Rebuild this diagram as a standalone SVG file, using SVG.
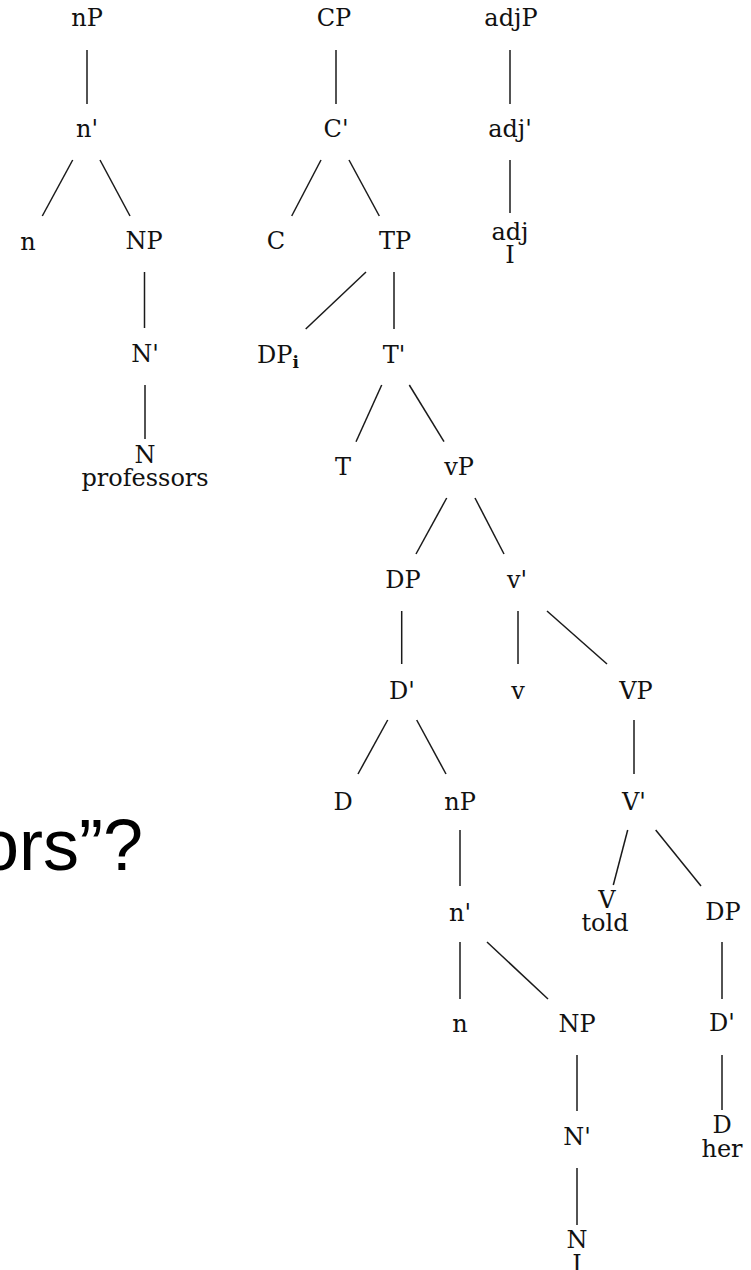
<svg xmlns="http://www.w3.org/2000/svg" width="751" height="1270" viewBox="0 0 751 1270">
<style>
.t{font-family:"DejaVu Serif",serif;font-size:24px;fill:#111;text-anchor:middle}
.big{font-family:"Liberation Sans",Arial,sans-serif;font-size:72px;fill:#000}
#edges line{stroke:#1a1a1a;stroke-width:1.5}
</style>
<rect width="751" height="1270" fill="#fff"/>
<text class="big" x="-21" y="870">ors”?</text>
<g id="edges">
<line x1="87" y1="50" x2="87" y2="104"/>
<line x1="72.7" y1="160" x2="42.3" y2="216"/>
<line x1="100" y1="160" x2="130" y2="216"/>
<line x1="144.5" y1="272" x2="144.5" y2="328"/>
<line x1="145" y1="385" x2="145" y2="439"/>
<line x1="336" y1="50" x2="336" y2="104"/>
<line x1="321" y1="160" x2="291.7" y2="216"/>
<line x1="349" y1="160" x2="379.3" y2="216"/>
<line x1="366" y1="272" x2="305.7" y2="329"/>
<line x1="394" y1="272" x2="394" y2="329"/>
<line x1="381.7" y1="385" x2="356" y2="441.7"/>
<line x1="409.3" y1="385" x2="444" y2="441.7"/>
<line x1="446.7" y1="498" x2="416" y2="554"/>
<line x1="475" y1="498" x2="504" y2="554"/>
<line x1="401.7" y1="611" x2="401.7" y2="664"/>
<line x1="518" y1="611" x2="518" y2="664"/>
<line x1="547" y1="611" x2="607" y2="664"/>
<line x1="387.7" y1="720" x2="358" y2="774"/>
<line x1="416.7" y1="720" x2="446" y2="774"/>
<line x1="634" y1="720" x2="634" y2="774"/>
<line x1="460" y1="830" x2="460" y2="886"/>
<line x1="627.7" y1="830" x2="613.3" y2="885"/>
<line x1="655.7" y1="830" x2="701" y2="886"/>
<line x1="460" y1="942" x2="460" y2="999"/>
<line x1="487" y1="942" x2="548" y2="999"/>
<line x1="722" y1="942" x2="722" y2="999"/>
<line x1="577" y1="1055" x2="577" y2="1111"/>
<line x1="722" y1="1055" x2="722" y2="1110"/>
<line x1="577" y1="1168" x2="577" y2="1225"/>
<line x1="510" y1="50" x2="510" y2="104"/>
<line x1="510" y1="160" x2="510" y2="213"/>
</g>
<g id="n-nP1"><text class="t" x="87" y="26">nP</text></g>
<g id="n-nbar1"><text class="t" x="87" y="137">n'</text></g>
<g id="n-n1"><text class="t" x="28" y="250">n</text></g>
<g id="n-NP1"><text class="t" x="144" y="249">NP</text></g>
<g id="n-Nbar1"><text class="t" x="145" y="362">N'</text></g>
<g id="n-N1"><text class="t" y="463"><tspan x="145">N</tspan><tspan x="145" dy="23">professors</tspan></text></g>
<g id="n-CP"><text class="t" x="334" y="26">CP</text></g>
<g id="n-Cbar"><text class="t" x="336" y="137">C'</text></g>
<g id="n-C"><text class="t" x="276" y="249">C</text></g>
<g id="n-TP"><text class="t" x="395" y="249">TP</text></g>
<g id="n-DPi"><text class="t" x="278" y="363">DP<tspan font-size="17" font-weight="bold" dy="5">i</tspan></text></g>
<g id="n-Tbar"><text class="t" x="394" y="363">T'</text></g>
<g id="n-T"><text class="t" x="343" y="475">T</text></g>
<g id="n-vP"><text class="t" x="459" y="475">vP</text></g>
<g id="n-DP"><text class="t" x="403" y="588">DP</text></g>
<g id="n-vbar"><text class="t" x="517" y="588">v'</text></g>
<g id="n-Dbar"><text class="t" x="402" y="699">D'</text></g>
<g id="n-v"><text class="t" x="518" y="699">v</text></g>
<g id="n-VP"><text class="t" x="636" y="699">VP</text></g>
<g id="n-D"><text class="t" x="343" y="810">D</text></g>
<g id="n-nP2"><text class="t" x="460" y="810">nP</text></g>
<g id="n-Vbar"><text class="t" x="634" y="810">V'</text></g>
<g id="n-nbar2"><text class="t" x="460" y="921">n'</text></g>
<g id="n-V"><text class="t" y="908"><tspan x="607">V</tspan><tspan x="605" dy="23">told</tspan></text></g>
<g id="n-DP2"><text class="t" x="723" y="920">DP</text></g>
<g id="n-n2"><text class="t" x="460" y="1032">n</text></g>
<g id="n-NP2"><text class="t" x="577" y="1032">NP</text></g>
<g id="n-Dbar2"><text class="t" x="722" y="1031">D'</text></g>
<g id="n-Nbar2"><text class="t" x="577" y="1145">N'</text></g>
<g id="n-D2"><text class="t" y="1133"><tspan x="722">D</tspan><tspan x="722" dy="24">her</tspan></text></g>
<g id="n-N2"><text class="t" y="1248"><tspan x="577">N</tspan><tspan x="577" dy="24">I</tspan></text></g>
<g id="n-adjP"><text class="t" x="511" y="26">adjP</text></g>
<g id="n-adjbar"><text class="t" x="510" y="137">adj'</text></g>
<g id="n-adj"><text class="t" y="240"><tspan x="510">adj</tspan><tspan x="510" dy="23">I</tspan></text></g>
</svg>
